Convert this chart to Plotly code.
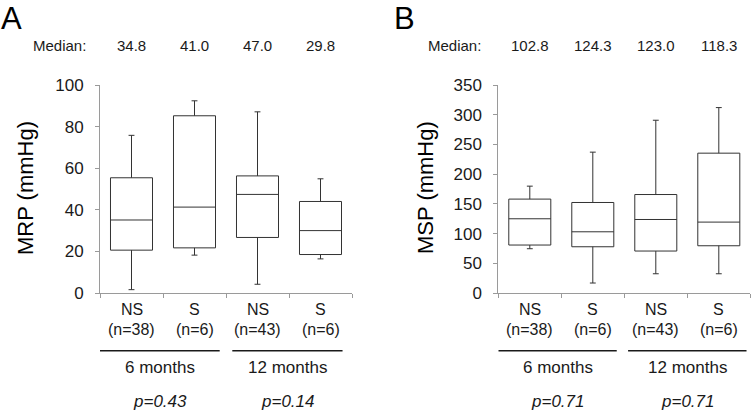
import plotly.graph_objects as go

W, H = 751, 414

# ---- data ----
groups = ["NS", "S", "NS", "S"]
n_labels = ["(n=38)", "(n=6)", "(n=43)", "(n=6)"]
periods = ["6 months", "12 months"]

mrp_low = [1.6, 18.2, 4.2, 16.4]
mrp_q1 = [20.6, 21.7, 26.7, 18.5]
mrp_med = [35.1, 41.3, 47.4, 30.0]
mrp_q3 = [55.4, 85.2, 56.3, 44.0]
mrp_high = [75.8, 92.4, 87.1, 54.9]
mrp_median_text = ["34.8", "41.0", "47.0", "29.8"]
mrp_p = ["p=0.43", "p=0.14"]

msp_low = [74.5, 16.8, 32.4, 32.4]
msp_q1 = [80.7, 77.8, 70.6, 79.5]
msp_med = [124.9, 103.0, 123.7, 119.3]
msp_q3 = [158.0, 152.3, 165.7, 235.3]
msp_high = [179.8, 237.0, 290.7, 312.0]
msp_median_text = ["102.8", "124.3", "123.0", "118.3"]
msp_p = ["p=0.71", "p=0.71"]

FONT = "Liberation Sans, Arial, sans-serif"
AXC = "#9a9a9a"
BOXC = "#333333"
TXT = "#1a1a1a"


def px(x):
    return x / W


def py(y):
    return 1 - y / H


fig = go.Figure()

panels = [
    dict(xa="x", ya="y", xd=[px(100), px(352)], low=mrp_low, q1=mrp_q1, med=mrp_med,
         q3=mrp_q3, high=mrp_high, rng=[0, 100], dt=20, title="MRP (mmHg)",
         mtext=mrp_median_text, p=mrp_p, letter="A", lx=0, tx=25, mx=88,
         spans=[(-0.5, 1.40), (1.60, 3.35)]),
    dict(xa="x2", ya="y2", xd=[px(498.3), px(750.3)], low=msp_low, q1=msp_q1, med=msp_med,
         q3=msp_q3, high=msp_high, rng=[0, 350], dt=50, title="MSP (mmHg)",
         mtext=msp_median_text, p=msp_p, letter="B", lx=393, tx=425, mx=483,
         spans=[(-0.5, 1.38), (1.56, 3.44)]),
]

ann = []
shapes = []
for i, P in enumerate(panels):
    fig.add_trace(go.Box(
        x=[0, 1, 2, 3], q1=P["q1"], median=P["med"], q3=P["q3"],
        lowerfence=P["low"], upperfence=P["high"],
        width=0.667, whiskerwidth=0.14,
        line=dict(color=BOXC, width=1), fillcolor="rgba(255,255,255,0)",
        boxpoints=False, showlegend=False,
        xaxis=P["xa"], yaxis=P["ya"], hoverinfo="skip",
    ))
    sfx = "" if i == 0 else "2"
    fig.layout["xaxis" + sfx] = dict(
        domain=P["xd"], range=[-0.5, 3.5], tickvals=[-0.5, 0.5, 1.5, 2.5, 3.5],
        showticklabels=False, ticks="outside", ticklen=4, tickcolor=AXC,
        showline=True, linecolor=AXC, linewidth=1, showgrid=False, zeroline=False,
        anchor="y" + sfx, fixedrange=True, automargin=False,
    )
    fig.layout["yaxis" + sfx] = dict(
        domain=[py(293), py(85)], range=P["rng"], dtick=P["dt"],
        ticks="outside", ticklen=4, tickcolor=AXC, ticklabelstandoff=8,
        showline=True, linecolor=AXC, linewidth=1, showgrid=False, zeroline=False,
        tickfont=dict(family=FONT, size=17, color=TXT),
        anchor="x" + sfx, fixedrange=True, automargin=False,
    )
    ann.append(dict(text=P["letter"], x=px(P["lx"]), y=1, xref="paper", yref="paper",
                    xanchor="left", yanchor="top", showarrow=False, borderpad=0,
                    font=dict(family=FONT, size=31, color="#000")))
    ann.append(dict(text=P["title"], x=px(P["tx"]), y=py(188), xref="paper", yref="paper",
                    textangle=-90, xanchor="center", yanchor="middle", showarrow=False,
                    font=dict(family=FONT, size=22, color="#000")))
    ann.append(dict(text="Median:", x=px(P["mx"]), y=py(45), xref="paper", yref="paper",
                    xanchor="right", yanchor="middle", showarrow=False,
                    font=dict(family=FONT, size=15, color=TXT)))
    for k, t in enumerate(P["mtext"]):
        ann.append(dict(text=t, x=k, y=py(45), xref=P["xa"], yref="paper",
                        xanchor="center", yanchor="middle", showarrow=False,
                        font=dict(family=FONT, size=15, color=TXT)))
    for k in range(4):
        ann.append(dict(text=groups[k], x=k, y=py(319.5), xref=P["xa"], yref="paper",
                        xanchor="center", yanchor="bottom", showarrow=False,
                        font=dict(family=FONT, size=16, color=TXT)))
        ann.append(dict(text=n_labels[k], x=k, y=py(318.5), xref=P["xa"], yref="paper",
                        xanchor="center", yanchor="top", showarrow=False,
                        font=dict(family=FONT, size=16, color=TXT)))
    for j, (a, b) in enumerate(P["spans"]):
        shapes.append(dict(type="line", xref=P["xa"], yref="paper", x0=a, x1=b,
                           y0=py(350.7), y1=py(350.7), line=dict(color=TXT, width=1.5)))
        cx = (a + b) / 2
        ann.append(dict(text=periods[j], x=cx, y=py(367.7), xref=P["xa"], yref="paper",
                        xanchor="center", yanchor="middle", showarrow=False,
                        font=dict(family=FONT, size=17, color=TXT)))
        ann.append(dict(text="<i>" + P["p"][j] + "</i>", x=cx, y=py(401), xref=P["xa"], yref="paper",
                        xanchor="center", yanchor="middle", showarrow=False,
                        font=dict(family=FONT, size=17, color=TXT)))

fig.update_layout(
    width=W, height=H, margin=dict(l=0, r=0, t=0, b=0, autoexpand=False),
    paper_bgcolor="white", plot_bgcolor="white",
    annotations=ann, shapes=shapes, showlegend=False,
)

fig.write_html("out.html")
